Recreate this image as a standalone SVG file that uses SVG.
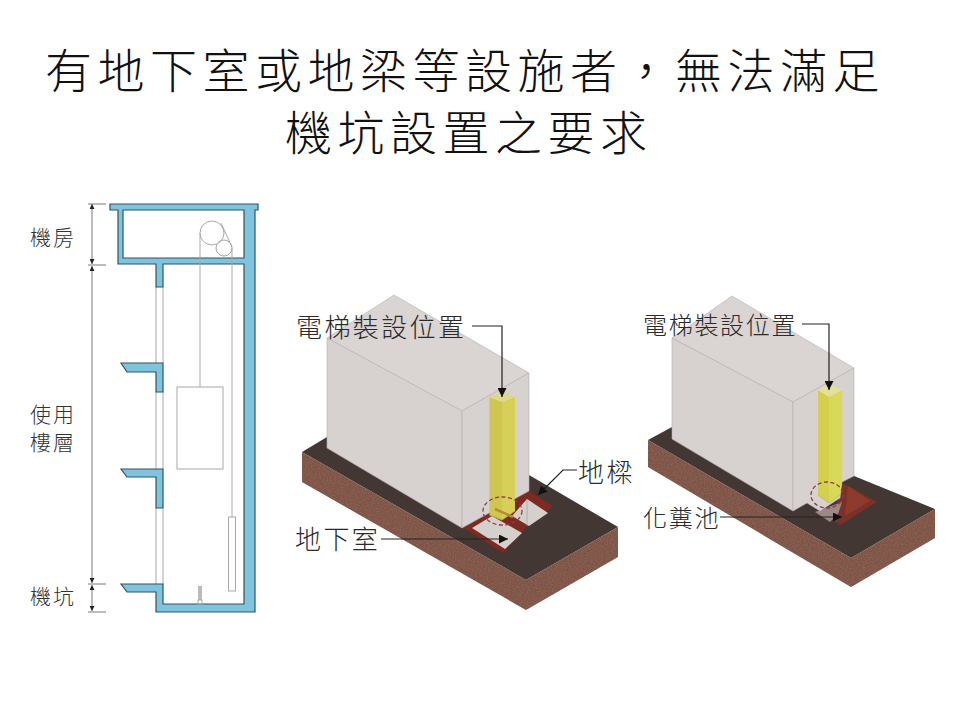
<svg xmlns="http://www.w3.org/2000/svg" width="960" height="720" viewBox="0 0 960 720">
<style>
text{font-family:"Noto Sans CJK TC","Noto Sans CJK JP",sans-serif;font-weight:300;fill:#2a2a2a}
.t{font-size:47px;fill:#111;letter-spacing:5.5px}
.s{font-size:21px;letter-spacing:2px;fill:#333}
.a{font-size:26px;letter-spacing:2.4px}
.b{font-size:24px;letter-spacing:1.7px}
.shell{fill:#7fc3dc;stroke:#2f5566;stroke-width:1.2;fill-rule:evenodd}
.thin{fill:none;stroke:#a8a8a8;stroke-width:1}
.dim{fill:none;stroke:#555;stroke-width:.8}
.lead{fill:none;stroke:#222;stroke-width:1.2}
.top{fill:#dad4d2;stroke:#b5afad;stroke-width:.6}
.wall{fill:#d7d1cf;stroke:#b5afad;stroke-width:.6}
.deck{fill:#423733}
.soil{fill:#7d5347;filter:url(#grain)}
.y1{fill:#cfc64f}.y2{fill:#d6cf58}.y3{fill:#dcd98a}
.red{fill:#7c2a22}.hole{fill:#d6d0cd}
.dash{fill:none;stroke:#8f3a4e;stroke-width:1.3;stroke-dasharray:4 2.5}
</style>
<defs>
<filter id="grain" x="0" y="0" width="100%" height="100%">
<feTurbulence type="fractalNoise" baseFrequency="0.7" numOctaves="2" seed="4" result="n"/>
<feColorMatrix in="n" type="matrix" values="0 0 0 0 .28  0 0 0 0 .14  0 0 0 0 .1  0 0 0 1.6 -.55" result="d"/>
<feComposite in="d" in2="SourceGraphic" operator="in" result="c"/>
<feMerge><feMergeNode in="SourceGraphic"/><feMergeNode in="c"/></feMerge>
</filter>
<marker id="ah" viewBox="0 0 10 10" refX="10" refY="5" markerWidth="11" markerHeight="9" markerUnits="userSpaceOnUse" orient="auto"><path d="M0 0L10 5L0 10Z" fill="#111"/></marker>
<marker id="dh" viewBox="0 0 10 10" refX="10" refY="5" markerWidth="6" markerHeight="5" markerUnits="userSpaceOnUse" orient="auto-start-reverse"><path d="M0 0L10 5L0 10Z" fill="#222"/></marker>
</defs>
<rect width="960" height="720" fill="#fff"/>
<g id="title">
<text class="t" x="45" y="88">有地下室或地梁等設施者，無法滿足</text>
<text class="t" x="285" y="150">機坑設置之要求</text>
</g>
<g id="section">
<path class="thin" d="M156 287V363M163 287V363M156 392V469M163 392V469M156 508V584M163 508V584"/>
<path class="shell" d="M110 204H258V210H255V612H156V592H127L121 584H163V604H244V264H163V287H156V264H118V210H110ZM123 210H244V258H123Z"/>
<path class="shell" d="M121 363H163V392H156V372H127Z"/>
<path class="shell" d="M121 469H163V508H156V477H127Z"/>
<g class="thin">
<rect x="177" y="387" width="46" height="82"/>
<circle cx="212" cy="233" r="12"/><circle cx="224" cy="248" r="8"/>
<path d="M200 233V387M232 248V517M221 223L232 247"/>
<rect x="228.500" y="517" width="7" height="74"/>
<path d="M198 587H202M198 589H202M198 591H202M198 593H202M198 595H202M198 597H202M198 599H202" stroke="#777"/>
<rect x="198" y="600" width="4" height="4"/>
</g>
</g>
<g id="dimensions">
<path class="dim" d="M88 204H106M88 265H106M88 584H106M88 612H106"/>
<path class="dim" d="M92 204V264" marker-start="url(#dh)" marker-end="url(#dh)"/>
<path class="dim" d="M92 266V583" marker-start="url(#dh)" marker-end="url(#dh)"/>
<path class="dim" d="M92 585V611" marker-start="url(#dh)" marker-end="url(#dh)"/>
<text class="s" x="30" y="245">機房</text>
<text class="s" x="30" y="422">使用</text>
<text class="s" x="30" y="450">樓層</text>
<text class="s" x="30" y="604">機坑</text>
</g>
<g id="building-basement">
<path class="deck" d="M302 452L327 437L529 475L618 527L526 580Z"/>
<path class="soil" d="M302 452L526 580V610L302 482Z"/>
<path class="soil" d="M526 580L618 527V557L526 610Z"/>
<path class="red" d="M463 528L529 491L553 506L527 527L503 553Z"/>
<path class="hole" d="M472 528L492 516L522 533L505 549Z"/>
<path class="hole" d="M527 499L548 513L529 526L512 516Z"/>
<path d="M527 499V526" stroke="#999" stroke-width=".6" fill="none"/>
<path class="top" d="M394 295L529 373L462 411L327 338Z"/>
<path class="wall" d="M327 338L462 411V528L327 448Z"/>
<path class="wall" d="M462 411L529 373V491L462 528Z"/>
<path class="y1" d="M489.500 397L502 402V520L489.500 515Z"/>
<path class="y2" d="M502 402L515 397V511L502 520Z"/>
<path class="y3" d="M489.500 397L502 391L515 397L502 402Z"/>
<path d="M489.500 515L502 520L515 511" fill="none" stroke="#b9a548" stroke-width="1"/>
<path d="M495 509L513 517" stroke="#b98a36" stroke-width="2.500" fill="none"/>
<ellipse class="dash" cx="502.500" cy="511" rx="19.500" ry="14"/>
</g>
<g id="building-septic">
<path class="deck" d="M648 440L672 427L854 476L935 509L851 558Z"/>
<path class="soil" d="M648 440L851 558V587L648 467Z"/>
<path class="soil" d="M851 558L935 509V538L851 587Z"/>
<path d="M843 483L877 502L840 525L832 520Z" fill="#7a3127"/>
<path d="M848 486L870 501L845 516Z" fill="#8e3b2e"/>
<path d="M815 512L842 502L838 514L830 522Z" fill="#9b8a84"/>
<path class="top" d="M732 296L854 368L793 402L672 338Z"/>
<path class="wall" d="M672 338L793 402V511L672 439Z"/>
<path class="wall" d="M793 402L854 368V476L842 482L840 498L820 511L807 503L793 511Z"/>
<path d="M818 390L829 397V503L818 495Z" fill="#d3d04e"/>
<path d="M829 397L842 390V482L840 495L829 503Z" fill="#d9d858"/>
<path d="M818 390L829 384L842 390L829 397Z" fill="#e3e197"/>
<path d="M818 495L829 503L840 495" fill="none" stroke="#b9b24a" stroke-width=".7"/>
<ellipse class="dash" cx="827" cy="495" rx="16" ry="13"/>
</g>
<g id="connectors">
<path class="lead" d="M472 326H502V397" marker-end="url(#ah)"/>
<path class="lead" d="M577 470H563L538 495" marker-end="url(#ah)"/>
<path class="lead" d="M381 539H508" marker-end="url(#ah)"/>
<path class="lead" d="M802 324H829V390" marker-end="url(#ah)"/>
<path class="lead" d="M720 517H842" marker-end="url(#ah)"/>
</g>
<g id="labels">
<text class="a" x="296" y="337">電梯裝設位置</text>
<text class="a" x="578" y="482">地樑</text>
<text class="a" x="295" y="549">地下室</text>
<text class="b" x="643" y="334">電梯裝設位置</text>
<text class="b" x="643" y="527">化糞池</text>
</g>
</svg>
